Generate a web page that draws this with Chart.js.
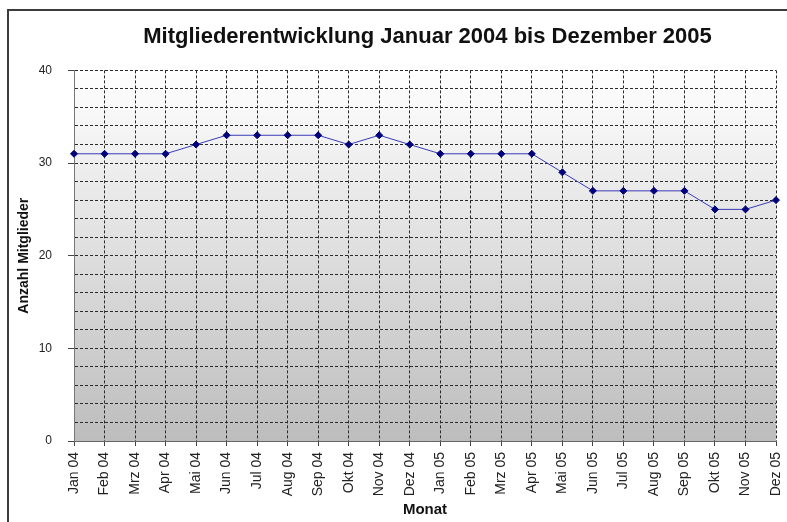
<!DOCTYPE html>
<html>
<head>
<meta charset="utf-8">
<script src="https://cdn.jsdelivr.net/npm/chart.js@4"></script>
<style>
    html, body { margin: 0; padding: 0; background: #fff; }
    #wrap { width: 787px; height: 522px; }
</style>
</head>
<body>
<div id="wrap"><canvas id="members-chart" width="787" height="522"></canvas></div>
<script>
// Monate Jan 2004 - Dez 2005
const months = ['Jan 04', 'Feb 04', 'Mrz 04', 'Apr 04', 'Mai 04', 'Jun 04', 'Jul 04', 'Aug 04', 'Sep 04', 'Okt 04', 'Nov 04', 'Dez 04',
    'Jan 05', 'Feb 05', 'Mrz 05', 'Apr 05', 'Mai 05', 'Jun 05', 'Jul 05', 'Aug 05', 'Sep 05', 'Okt 05', 'Nov 05', 'Dez 05'];
const memberCounts = [31, 31, 31, 31, 32, 33, 33, 33, 33, 32, 33, 32,
    31, 31, 31, 31, 29, 27, 27, 27, 27, 25, 25, 26];
const yLabelValues = [0, 10, 20, 30, 40];

const chartTitle = 'Mitgliederentwicklung Januar 2004 bis Dezember 2005';

// frame + plot background gradient
const backgroundPlugin = {
    id: 'frameAndPlotBg',
    beforeDraw(chart) {
        const ctx = chart.ctx;
        const area = chart.chartArea;
        ctx.save();
        ctx.fillStyle = '#ffffff';
        ctx.fillRect(0, 0, chart.width, chart.height);
        ctx.strokeStyle = '#3c3c3c';
        ctx.lineWidth = 2;
        ctx.strokeRect(8, 10, chart.width + 20, chart.height + 20);
        const grad = ctx.createLinearGradient(0, area.top, 0, area.bottom);
        grad.addColorStop(0, '#ffffff');
        grad.addColorStop(1, '#bdbdbd');
        ctx.fillStyle = grad;
        ctx.fillRect(area.left, area.top, area.right - area.left, area.bottom - area.top);
        ctx.restore();
    },
    afterLayout(chart) {
        // title sits a bit right of the canvas centre in the original
        if (chart.titleBlock) {
            chart.titleBlock.left = 74;
            chart.titleBlock.right = 781;
        }
    }
};

const ctx = document.getElementById('members-chart');
new Chart(ctx, {
    type: 'line',
    data: {
        labels: months,
        datasets: [{
            label: 'Mitglieder',
            data: memberCounts,
            borderColor: '#3a3ab8',
            borderWidth: 1,
            pointStyle: 'rectRot',
            pointRadius: 3.5,
            pointBackgroundColor: '#00007a',
            pointBorderColor: '#00007a',
            pointBorderWidth: 1,
            tension: 0,
            fill: false
        }]
    },
    options: {
        responsive: false,
        animation: false,
        layout: { padding: { left: 12, right: 11, top: 12, bottom: 2 } },
        plugins: {
            legend: { display: false },
            tooltip: { enabled: false },
            title: {
                display: true,
                text: chartTitle,
                color: '#111',
                font: { family: 'Liberation Sans', size: 22, weight: 'bold' },
                padding: { top: 12, bottom: 20 }
            }
        },
        scales: {
            x: {
                offset: false,
                afterFit: (scale) => {
                    scale.height = 79;
                    scale.paddingLeft = 0;
                    scale.paddingRight = 0;
                },
                grid: {
                    color: '#2a2a2a',
                    lineWidth: 1,
                    tickLength: 5,
                    tickColor: '#444'
                },
                border: { display: true, color: '#666', width: 1, dash: [3, 2] },
                ticks: {
                    autoSkip: false,
                    minRotation: 90,
                    maxRotation: 90,
                    padding: 6,
                    color: '#222',
                    font: { family: 'Liberation Sans', size: 14 }
                },
                title: {
                    display: true,
                    text: 'Monat',
                    color: '#111',
                    font: { family: 'Liberation Sans', size: 15, weight: 'bold' },
                    padding: { top: 0, bottom: 1 }
                }
            },
            y: {
                min: 0,
                max: 40,
                afterFit: (scale) => { scale.width = 62; },
                grid: {
                    color: '#2a2a2a',
                    lineWidth: 1,
                    tickLength: 6,
                    tickColor: (c) => (c.tick && yLabelValues.includes(c.tick.value)) ? '#444' : 'rgba(0,0,0,0)'
                },
                border: { display: true, color: '#777', width: 1, dash: [3, 2] },
                ticks: {
                    stepSize: 2,
                    padding: 16,
                    color: '#222',
                    font: { family: 'Liberation Sans', size: 12 },
                    callback: (value) => yLabelValues.includes(value) ? String(value) : ''
                },
                title: {
                    display: true,
                    text: 'Anzahl Mitglieder',
                    color: '#111',
                    font: { family: 'Liberation Sans', size: 14, weight: 'bold' },
                    padding: { top: 4, bottom: 0 }
                }
            }
        }
    },
    plugins: [backgroundPlugin]
});
</script>
</body>
</html>
